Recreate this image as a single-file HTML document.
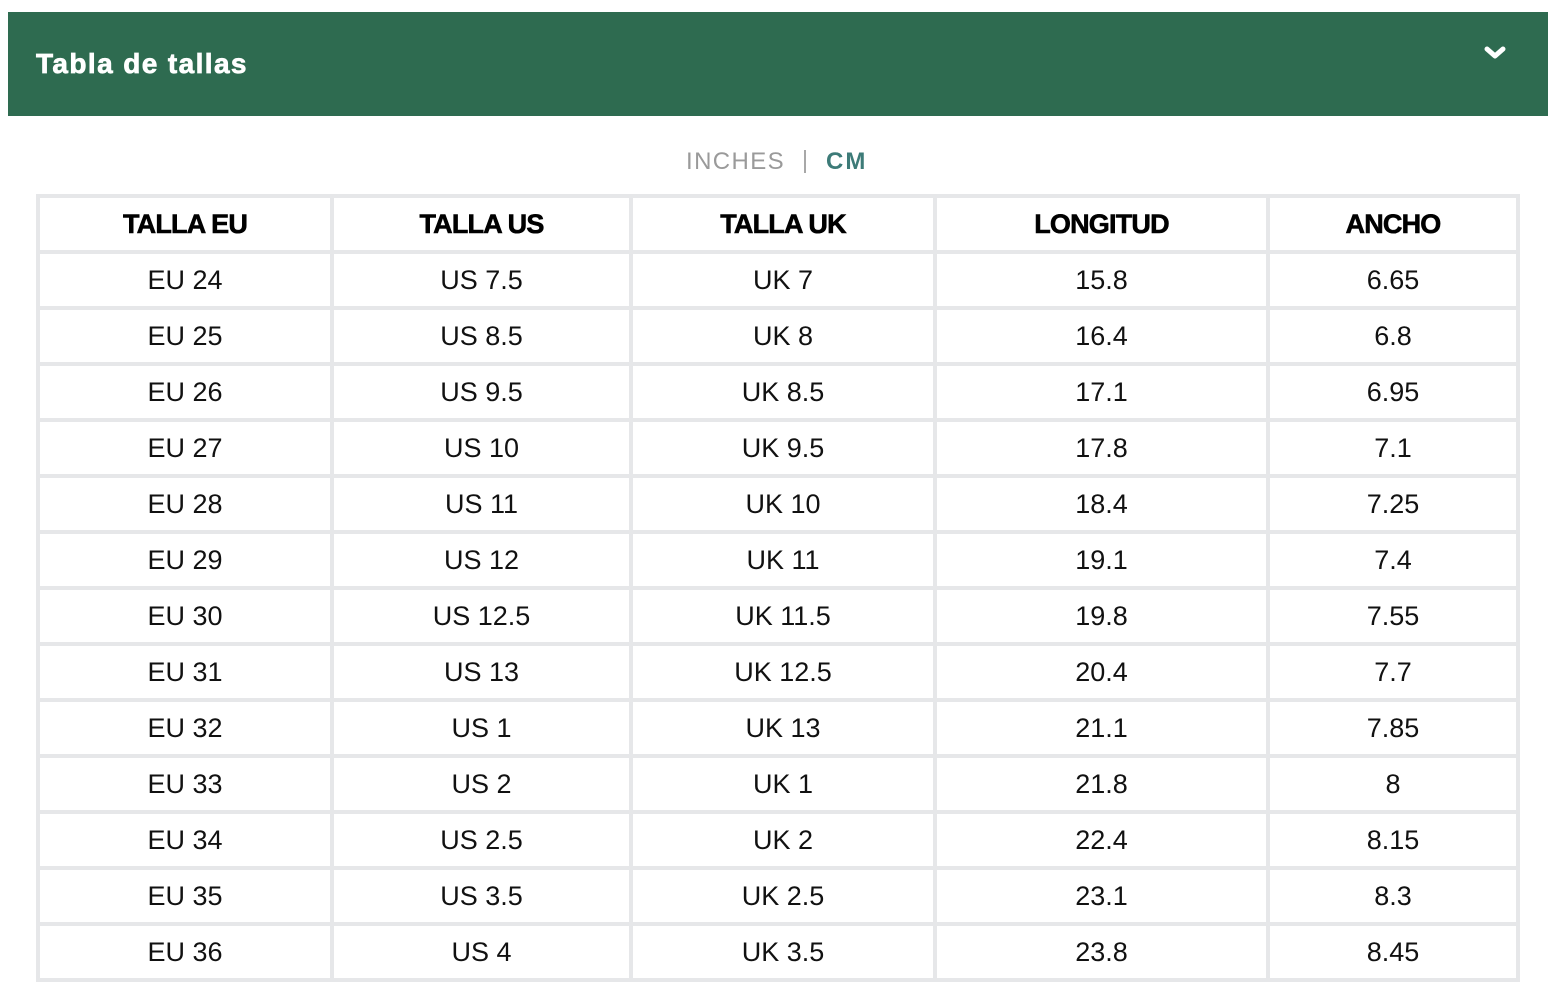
<!DOCTYPE html>
<html>
<head>
<meta charset="utf-8">
<style>
  html, body { margin:0; padding:0; background:#fff; }
  body { width:1562px; height:996px; position:relative; overflow:hidden; font-family:"Liberation Sans", sans-serif; }
  .bar { position:absolute; left:8px; top:12px; width:1540px; height:104px; background:#2e6b50; }
  .title { position:absolute; left:36px; top:44px; font-size:28px; font-weight:bold; color:#fff; letter-spacing:1.4px; line-height:40px; -webkit-text-stroke:0.7px #fff; }
  .chev { position:absolute; left:1483px; top:44px; }
  .units { position:absolute; top:146px; left:0; width:1562px; height:32px; }
  .inches { position:absolute; left:686px; top:0; font-size:24px; color:#9a9a9a; letter-spacing:1.4px; line-height:32px; }
  .sep { position:absolute; left:804px; top:4px; width:2px; height:23px; background:#a8a8a8; }
  .cm { position:absolute; left:826px; top:0; font-size:24px; font-weight:bold; color:#3d7b78; letter-spacing:2px; line-height:32px; }
  .tbl { position:absolute; left:36px; top:194px; width:1480px; border-top:4px solid #e6e7e9; border-left:4px solid #e6e7e9; }
  .row { display:flex; height:56px; }
  .c { box-sizing:border-box; height:56px; border-right:4px solid #e6e7e9; border-bottom:4px solid #e6e7e9; text-align:center; line-height:52px; font-size:27px; color:#111; }
  .h .c { font-weight:bold; color:#000; letter-spacing:-0.8px; font-size:27px; -webkit-text-stroke:0.6px #000; }
  .w1 { width:294px; } .w2 { width:299px; } .w3 { width:304px; } .w4 { width:333px; } .w5 { width:250px; }
</style>
</head>
<body>
<div class="bar"></div>
<div class="title">Tabla de tallas</div>
<svg class="chev" width="26" height="20" viewBox="0 0 26 20">
  <polyline points="4,5 12,12 20,5" fill="none" stroke="#fff" stroke-width="5" stroke-linecap="round" stroke-linejoin="round"/>
</svg>
<div class="units">
  <span class="inches">INCHES</span>
  <div class="sep"></div>
  <span class="cm">CM</span>
</div>
<div class="tbl">
  <div class="row h"><div class="c w1">TALLA EU</div><div class="c w2">TALLA US</div><div class="c w3">TALLA UK</div><div class="c w4">LONGITUD</div><div class="c w5">ANCHO</div></div>
  <div class="row"><div class="c w1">EU 24</div><div class="c w2">US 7.5</div><div class="c w3">UK 7</div><div class="c w4">15.8</div><div class="c w5">6.65</div></div>
  <div class="row"><div class="c w1">EU 25</div><div class="c w2">US 8.5</div><div class="c w3">UK 8</div><div class="c w4">16.4</div><div class="c w5">6.8</div></div>
  <div class="row"><div class="c w1">EU 26</div><div class="c w2">US 9.5</div><div class="c w3">UK 8.5</div><div class="c w4">17.1</div><div class="c w5">6.95</div></div>
  <div class="row"><div class="c w1">EU 27</div><div class="c w2">US 10</div><div class="c w3">UK 9.5</div><div class="c w4">17.8</div><div class="c w5">7.1</div></div>
  <div class="row"><div class="c w1">EU 28</div><div class="c w2">US 11</div><div class="c w3">UK 10</div><div class="c w4">18.4</div><div class="c w5">7.25</div></div>
  <div class="row"><div class="c w1">EU 29</div><div class="c w2">US 12</div><div class="c w3">UK 11</div><div class="c w4">19.1</div><div class="c w5">7.4</div></div>
  <div class="row"><div class="c w1">EU 30</div><div class="c w2">US 12.5</div><div class="c w3">UK 11.5</div><div class="c w4">19.8</div><div class="c w5">7.55</div></div>
  <div class="row"><div class="c w1">EU 31</div><div class="c w2">US 13</div><div class="c w3">UK 12.5</div><div class="c w4">20.4</div><div class="c w5">7.7</div></div>
  <div class="row"><div class="c w1">EU 32</div><div class="c w2">US 1</div><div class="c w3">UK 13</div><div class="c w4">21.1</div><div class="c w5">7.85</div></div>
  <div class="row"><div class="c w1">EU 33</div><div class="c w2">US 2</div><div class="c w3">UK 1</div><div class="c w4">21.8</div><div class="c w5">8</div></div>
  <div class="row"><div class="c w1">EU 34</div><div class="c w2">US 2.5</div><div class="c w3">UK 2</div><div class="c w4">22.4</div><div class="c w5">8.15</div></div>
  <div class="row"><div class="c w1">EU 35</div><div class="c w2">US 3.5</div><div class="c w3">UK 2.5</div><div class="c w4">23.1</div><div class="c w5">8.3</div></div>
  <div class="row"><div class="c w1">EU 36</div><div class="c w2">US 4</div><div class="c w3">UK 3.5</div><div class="c w4">23.8</div><div class="c w5">8.45</div></div>
</div>
</body>
</html>
